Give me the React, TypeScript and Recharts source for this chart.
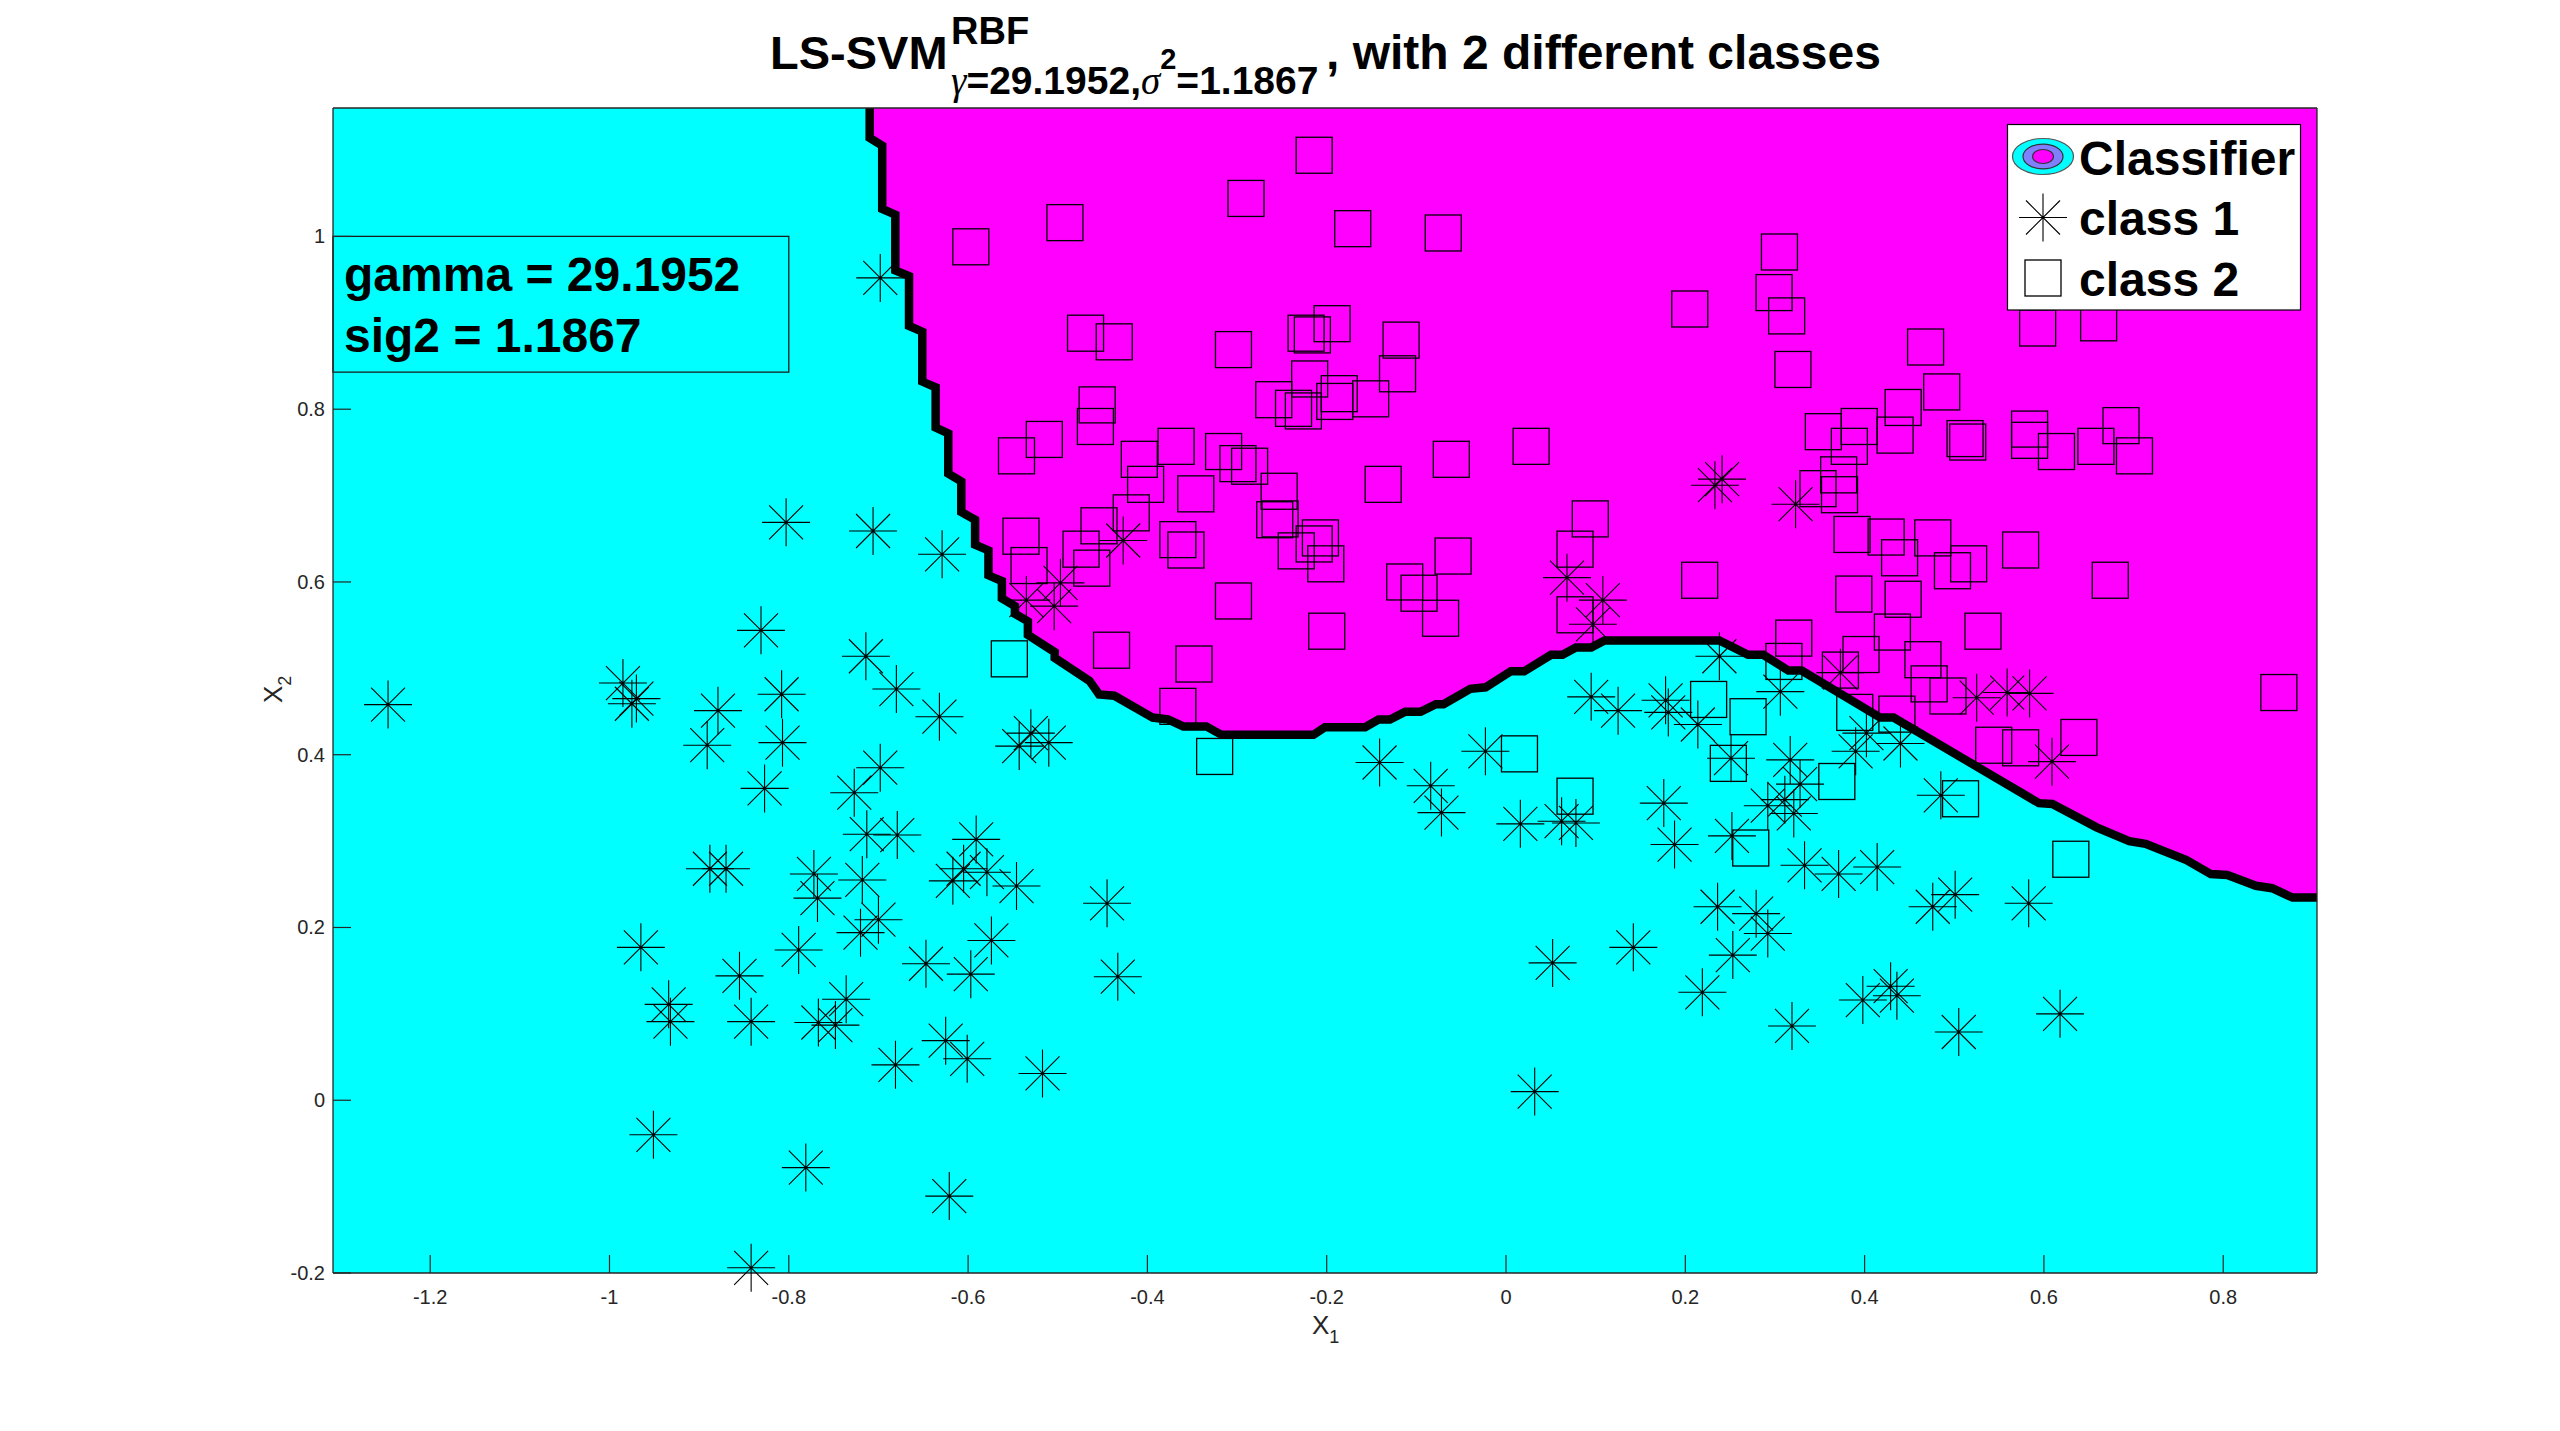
import {
  ComposedChart, Area, Scatter, XAxis, YAxis, CartesianGrid, ReferenceArea,
} from 'recharts'

// ── Axis ranges & ticks ────────────────────────────────────────

const X_MIN = -1.3084
const X_MAX = 0.9046
const Y_MIN = -0.2
const Y_MAX = 1.1487

const X_TICKS = [-1.2, -1, -0.8, -0.6, -0.4, -0.2, 0, 0.2, 0.4, 0.6, 0.8]
const Y_TICKS = [-0.2, 0, 0.2, 0.4, 0.6, 0.8, 1]

// ── Data ───────────────────────────────────────────────────────

// class 1 (stars)
const CLASS1: [number, number][] = [
  [-0.698, 0.952], [-0.803, 0.669], [-0.706, 0.659], [-0.831, 0.544], [-0.714, 0.514],
  [-0.629, 0.632], [-0.427, 0.648], [-0.535, 0.579], [-0.497, 0.599], [-0.504, 0.572],
  [-1.247, 0.458], [-0.985, 0.483], [-0.970, 0.465], [-0.975, 0.459], [-0.879, 0.451],
  [-0.891, 0.411], [-0.808, 0.470], [-0.807, 0.414], [-0.827, 0.361], [-0.680, 0.476],
  [-0.632, 0.444], [-0.727, 0.356], [-0.698, 0.385], [-0.713, 0.308], [-0.679, 0.307],
  [-0.888, 0.268], [-0.870, 0.268], [-0.772, 0.262], [-0.768, 0.234], [-0.718, 0.255],
  [-0.700, 0.209], [-0.720, 0.194], [-0.789, 0.174], [-0.965, 0.177], [-0.855, 0.144],
  [-0.934, 0.111], [-0.932, 0.091], [-0.842, 0.091], [-0.767, 0.090], [-0.748, 0.087],
  [-0.736, 0.117], [-0.681, 0.041], [-0.647, 0.158], [-0.951, -0.040], [-0.781, -0.078],
  [-0.842, -0.194],
  [-0.543, 0.410], [-0.530, 0.425], [-0.510, 0.414], [-0.141, 0.391], [-0.084, 0.364],
  [-0.072, 0.333], [-0.023, 0.404], [-0.591, 0.302], [-0.605, 0.268], [-0.579, 0.264],
  [-0.617, 0.254], [-0.546, 0.248], [-0.445, 0.228], [-0.574, 0.185], [-0.597, 0.146],
  [-0.433, 0.143], [-0.625, 0.069], [-0.601, 0.048], [-0.517, 0.031], [-0.621, -0.111],
  [0.095, 0.467], [0.125, 0.451], [0.178, 0.463], [0.181, 0.449], [0.214, 0.435],
  [0.306, 0.473], [0.251, 0.396], [0.317, 0.394], [0.328, 0.366], [0.311, 0.348],
  [0.292, 0.341], [0.321, 0.332], [0.390, 0.404], [0.402, 0.425], [0.440, 0.413],
  [0.485, 0.353], [0.525, 0.466], [0.559, 0.472], [0.584, 0.471], [0.609, 0.392],
  [0.016, 0.320], [0.062, 0.323], [0.078, 0.321], [0.176, 0.344], [0.188, 0.296],
  [0.252, 0.306], [0.333, 0.272], [0.371, 0.262], [0.414, 0.270], [0.476, 0.224],
  [0.501, 0.238], [0.583, 0.228], [0.236, 0.224], [0.279, 0.216], [0.292, 0.193],
  [0.253, 0.168], [0.052, 0.159], [0.142, 0.177], [0.219, 0.125], [0.319, 0.086],
  [0.398, 0.116], [0.429, 0.132], [0.436, 0.121], [0.505, 0.079], [0.618, 0.100],
  [0.032, 0.010],
  [0.241, 0.719], [0.233, 0.712], [0.323, 0.690], [0.068, 0.605], [0.108, 0.579],
  [0.097, 0.551], [0.238, 0.514], [0.373, 0.495],
]

// class 2 (squares)
const CLASS2: [number, number][] = [
  [-0.214, 1.094], [-0.290, 1.044], [-0.492, 1.016], [-0.597, 0.988], [-0.171, 1.009],
  [-0.070, 1.004], [-0.469, 0.888], [-0.437, 0.878], [-0.304, 0.869], [-0.223, 0.888],
  [-0.216, 0.886], [-0.194, 0.899], [-0.117, 0.880], [-0.121, 0.841], [-0.219, 0.835],
  [-0.259, 0.811], [-0.237, 0.801], [-0.226, 0.798], [-0.186, 0.818], [-0.191, 0.809],
  [-0.151, 0.812], [-0.456, 0.805], [-0.458, 0.780], [-0.515, 0.765], [-0.546, 0.746],
  [-0.409, 0.742], [-0.368, 0.757], [-0.402, 0.713], [-0.346, 0.702], [-0.315, 0.751],
  [-0.299, 0.737], [-0.286, 0.734], [-0.253, 0.705], [-0.258, 0.672], [-0.252, 0.673],
  [-0.137, 0.713], [-0.061, 0.742], [-0.418, 0.680], [-0.454, 0.665], [-0.474, 0.638],
  [-0.462, 0.616], [-0.541, 0.653], [-0.532, 0.619], [-0.366, 0.649], [-0.357, 0.637],
  [-0.234, 0.636], [-0.214, 0.644], [-0.207, 0.651], [-0.201, 0.621], [-0.113, 0.600],
  [-0.097, 0.587], [-0.073, 0.558], [-0.059, 0.630], [-0.304, 0.578], [-0.200, 0.543],
  [-0.440, 0.521], [-0.348, 0.505], [-0.554, 0.511], [-0.366, 0.456], [-0.325, 0.398],
  [0.305, 0.982], [0.299, 0.935], [0.313, 0.908], [0.205, 0.916], [0.320, 0.846],
  [0.468, 0.872], [0.486, 0.820], [0.443, 0.802], [0.354, 0.774], [0.394, 0.780],
  [0.383, 0.757], [0.434, 0.770], [0.512, 0.766], [0.515, 0.762], [0.584, 0.777],
  [0.584, 0.764], [0.614, 0.751], [0.028, 0.757], [0.371, 0.724], [0.348, 0.708],
  [0.372, 0.701], [0.094, 0.673], [0.077, 0.638], [0.386, 0.655], [0.424, 0.652],
  [0.476, 0.651], [0.439, 0.628], [0.516, 0.621], [0.498, 0.613], [0.574, 0.637],
  [0.216, 0.602], [0.388, 0.586], [0.443, 0.580], [0.532, 0.543], [0.077, 0.562],
  [0.431, 0.542], [0.321, 0.535], [0.310, 0.508], [0.396, 0.516], [0.465, 0.510],
  [0.373, 0.498], [0.472, 0.482], [0.493, 0.468], [0.226, 0.464], [0.270, 0.444],
  [0.436, 0.447], [0.389, 0.449],
  [0.015, 0.401], [0.077, 0.352], [0.248, 0.390], [0.369, 0.369], [0.273, 0.292],
  [0.507, 0.349], [0.544, 0.411], [0.574, 0.408], [0.630, 0.279], [0.639, 0.420],
  [0.593, 0.894], [0.661, 0.900], [0.658, 0.757], [0.686, 0.781], [0.701, 0.746],
  [0.674, 0.602], [0.862, 0.472],
]

// classifier decision boundary (staircase contour, top edge -> right edge)
const BOUNDARY: [number, number][] = [
  [-0.7098, 1.1487], [-0.7098, 1.1141], [-0.6958, 1.1052], [-0.6958, 1.0319],
  [-0.6812, 1.0252], [-0.6812, 0.9608], [-0.6659, 0.9542], [-0.6659, 0.8964],
  [-0.6511, 0.8897], [-0.6511, 0.8320], [-0.6362, 0.8253], [-0.6362, 0.7787],
  [-0.6221, 0.7720], [-0.6221, 0.7254], [-0.6076, 0.7165], [-0.6076, 0.6810],
  [-0.5922, 0.6721], [-0.5922, 0.6432], [-0.5773, 0.6365], [-0.5773, 0.6077],
  [-0.5623, 0.6010], [-0.5623, 0.5810], [-0.5478, 0.5721], [-0.5478, 0.5632],
  [-0.5333, 0.5543], [-0.5333, 0.5388], [-0.5034, 0.5188], [-0.5034, 0.5121],
  [-0.4646, 0.4855], [-0.4600, 0.4788], [-0.4539, 0.4697], [-0.4368, 0.4683],
  [-0.3941, 0.4430], [-0.3770, 0.4408], [-0.3600, 0.4328], [-0.3343, 0.4328],
  [-0.3173, 0.4230], [-0.2148, 0.4230], [-0.2020, 0.4319], [-0.1572, 0.4319],
  [-0.1422, 0.4408], [-0.1294, 0.4408], [-0.1124, 0.4497], [-0.0953, 0.4497],
  [-0.0782, 0.4585], [-0.0697, 0.4585], [-0.0398, 0.4763], [-0.0227, 0.4780],
  [0.0054, 0.4966], [0.0203, 0.4966], [0.0502, 0.5157], [0.0630, 0.5157],
  [0.0779, 0.5241], [0.0950, 0.5241], [0.1099, 0.5322], [0.2380, 0.5322],
  [0.2700, 0.5157], [0.2871, 0.5157], [0.3149, 0.4975], [0.3298, 0.4975],
  [0.4174, 0.4430], [0.4323, 0.4430], [0.5945, 0.3439], [0.6095, 0.3430],
  [0.6587, 0.3159], [0.6952, 0.3000], [0.7134, 0.2969], [0.7590, 0.2780],
  [0.7862, 0.2618], [0.8046, 0.2607], [0.8364, 0.2483], [0.8545, 0.2455],
  [0.8772, 0.2347], [0.9046, 0.2347],
]

// info box around the hyper-parameters (data units)
const INFO_BOX = { x1: X_MIN, x2: -0.8, y1: 0.843, y2: 1 }
const GAMMA = '29.1952'
const SIG2 = '1.1867'

// ── Style ──────────────────────────────────────────────────────

const CYAN = '#00ffff'
const MAGENTA = '#ff00ff'
const AXIS = '#262626'
const FONT = '"Liberation Sans", Arial, Helvetica, sans-serif'
const TICK_LEN = 18
const STAR_R = 24
const STAR_D = 17
const SQ = 36

const class1Data = CLASS1.map(([x, y]) => ({ x, y }))
const class2Data = CLASS2.map(([x, y]) => ({ x, y }))
const boundaryData = BOUNDARY.map(([x, y]) => ({ x, y }))

const fmt = (v: number) => String(Math.round(v * 10) / 10)

// ── Markers ────────────────────────────────────────────────────

function starPath(cx: number, cy: number) {
  const r = STAR_R, d = STAR_D
  return `M${cx - r},${cy}H${cx + r}M${cx},${cy - r}V${cy + r}` +
    `M${cx - d},${cy - d}L${cx + d},${cy + d}M${cx - d},${cy + d}L${cx + d},${cy - d}`
}

function StarShape(props: any) {
  const { cx, cy } = props
  if (cx == null || cy == null) return <g />
  return <path d={starPath(cx, cy)} stroke="#000" strokeWidth={1.1} fill="none" />
}

function SquareShape(props: any) {
  const { cx, cy } = props
  if (cx == null || cy == null) return <g />
  return <rect x={cx - SQ / 2} y={cy - SQ / 2} width={SQ} height={SQ} stroke="#000" strokeWidth={1.3} fill="none" />
}

// ── Ticks (MATLAB style: drawn inwards) ────────────────────────

function BottomTick({ x, y, payload }: any) {
  return (
    <g>
      <line x1={x} y1={y} x2={x} y2={y - TICK_LEN} stroke={AXIS} strokeWidth={1.2} />
      <text x={x} y={y + 31} textAnchor="middle" fontSize={20} fill={AXIS} fontFamily={FONT}>
        {fmt(payload.value)}
      </text>
    </g>
  )
}

function TopTick({ x, y }: any) {
  return <line x1={x} y1={y} x2={x} y2={y + TICK_LEN} stroke={AXIS} strokeWidth={1.2} />
}

function LeftTick({ x, y, payload }: any) {
  return (
    <g>
      <line x1={x} y1={y} x2={x + TICK_LEN} y2={y} stroke={AXIS} strokeWidth={1.2} />
      <text x={x - 8} y={y + 7} textAnchor="end" fontSize={20} fill={AXIS} fontFamily={FONT}>
        {fmt(payload.value)}
      </text>
    </g>
  )
}

function RightTick({ x, y }: any) {
  return <line x1={x} y1={y} x2={x - TICK_LEN} y2={y} stroke={AXIS} strokeWidth={1.2} />
}

// ── Overlay: title, info text, legend, axis labels ─────────────

function Overlay() {
  return (
    <svg width={2560} height={1431} style={{ position: 'absolute', left: 0, top: 0, pointerEvents: 'none' }}
      fontFamily={FONT}>
      {/* title */}
      <text x={770} y={69} fontSize={47} fontWeight="bold">LS-SVM</text>
      <text x={951} y={44} fontSize={38} fontWeight="bold">RBF</text>
      <text x={951} y={94} fontSize={39} fontWeight="bold">
        <tspan fontFamily='"Liberation Serif", serif' fontStyle="italic" fontWeight="normal">γ</tspan>
        <tspan>={GAMMA},</tspan>
        <tspan fontFamily='"Liberation Serif", serif' fontStyle="italic" fontWeight="normal">σ</tspan>
        <tspan dy={-25} fontSize={29}>2</tspan>
        <tspan dy={25}>={SIG2}</tspan>
      </text>
      <text x={1326} y={69} fontSize={48} fontWeight="bold">, with 2 different classes</text>

      {/* hyper-parameter box text */}
      <text x={344} y={291} fontSize={48} fontWeight="bold">gamma = {GAMMA}</text>
      <text x={344} y={352} fontSize={48} fontWeight="bold">sig2 = {SIG2}</text>

      {/* axis labels */}
      <text x={1312} y={1334} fontSize={26} fill={AXIS}>
        X<tspan dy={9} fontSize={18}>1</tspan>
      </text>
      <text transform="translate(282,703) rotate(-90)" fontSize={26} fill={AXIS}>
        X<tspan dy={9} fontSize={18}>2</tspan>
      </text>

      {/* legend */}
      <rect x={2007.5} y={124.5} width={293} height={185.5} fill="#fff" stroke="#000" strokeWidth={1.2} />
      <ellipse cx={2043} cy={156.5} rx={30.5} ry={18} fill={CYAN} stroke="#555" strokeWidth={1.2} />
      <ellipse cx={2043} cy={156.5} rx={20} ry={12.3} fill="#8080ff" stroke="#333" strokeWidth={1.2} />
      <ellipse cx={2043} cy={156.5} rx={10.5} ry={7} fill={MAGENTA} stroke="#333" strokeWidth={1.2} />
      <text x={2079} y={175} fontSize={48} fontWeight="bold">Classifier</text>
      <path d={starPath(2043, 217.5)} stroke="#000" strokeWidth={1.1} fill="none" />
      <text x={2079} y={235} fontSize={48} fontWeight="bold">class 1</text>
      <rect x={2043 - SQ / 2} y={278 - SQ / 2} width={SQ} height={SQ} stroke="#000" strokeWidth={1.3} fill="none" />
      <text x={2079} y={296} fontSize={48} fontWeight="bold">class 2</text>
    </svg>
  )
}

// ── Chart ──────────────────────────────────────────────────────

export default function App() {
  return (
    <div style={{ position: 'absolute', left: 0, top: 0, width: 2560, height: 1431, background: '#fff' }}>
      <ComposedChart width={2560} height={1431} margin={{ top: 98, right: 233, bottom: 58, left: 233 }}>
        <CartesianGrid horizontal={false} vertical={false} fill={CYAN} fillOpacity={1} />

        <XAxis dataKey="x" type="number" domain={[X_MIN, X_MAX]} ticks={X_TICKS} interval={0}
          height={100} tickSize={0} tickMargin={0} tickLine={false} tick={<BottomTick />}
          axisLine={{ stroke: AXIS, strokeWidth: 1.3 }} />
        <XAxis xAxisId="top" orientation="top" type="number" domain={[X_MIN, X_MAX]} ticks={X_TICKS}
          interval={0} height={10} tickSize={0} tickMargin={0} tickLine={false} tick={<TopTick />}
          axisLine={{ stroke: AXIS, strokeWidth: 1.3 }} />
        <YAxis dataKey="y" type="number" domain={[Y_MIN, Y_MAX]} ticks={Y_TICKS} interval={0}
          width={100} tickSize={0} tickMargin={0} tickLine={false} tick={<LeftTick />}
          axisLine={{ stroke: AXIS, strokeWidth: 1.3 }} />
        <YAxis yAxisId="right" orientation="right" type="number" domain={[Y_MIN, Y_MAX]} ticks={Y_TICKS}
          interval={0} width={10} tickSize={0} tickMargin={0} tickLine={false} tick={<RightTick />}
          axisLine={{ stroke: AXIS, strokeWidth: 1.3 }} />

        {/* class-2 region above the decision boundary */}
        <Area data={boundaryData} dataKey="y" type="linear" baseValue={Y_MAX}
          fill={MAGENTA} fillOpacity={1} stroke="#000" strokeWidth={8.5}
          dot={false} activeDot={false} isAnimationActive={false} />

        <ReferenceArea x1={INFO_BOX.x1} x2={INFO_BOX.x2} y1={INFO_BOX.y1} y2={INFO_BOX.y2}
          fill="none" fillOpacity={0} stroke="#1a1a1a" strokeWidth={1.3} ifOverflow="visible" />

        <Scatter name="class 1" data={class1Data} shape={<StarShape />} isAnimationActive={false} />
        <Scatter name="class 2" data={class2Data} shape={<SquareShape />} isAnimationActive={false} />
      </ComposedChart>
      <Overlay />
    </div>
  )
}
